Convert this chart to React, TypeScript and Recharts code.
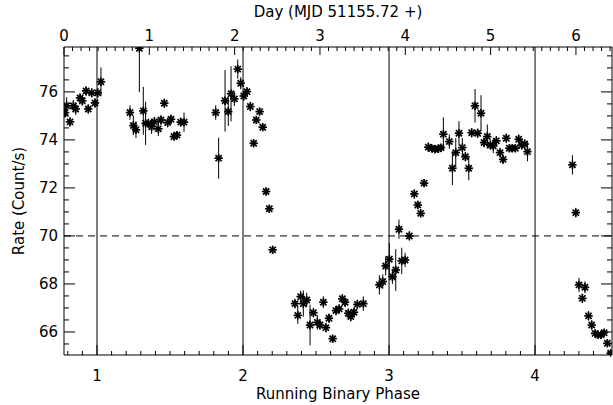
import React from 'react';
import { ScatterChart, Scatter, XAxis, YAxis, ErrorBar, ReferenceLine, Label } from 'recharts';

// Running binary phase of each measurement
const PHASE: number[] = [
  0.781, 0.792, 0.815, 0.838, 0.854, 0.884, 0.899, 0.925, 0.94, 0.964, 0.986, 1.005, 1.027,
  1.226, 1.249, 1.267, 1.29, 1.317, 1.333, 1.352, 1.374, 1.393, 1.42, 1.438, 1.461, 1.484, 1.507, 1.527, 1.548, 1.573, 1.596,
  1.813, 1.833, 1.877, 1.899, 1.918, 1.941, 1.964, 1.984, 2.005, 2.027, 2.05, 2.073, 2.091, 2.114, 2.135, 2.158, 2.18, 2.203,
  2.356, 2.375, 2.395, 2.413, 2.436, 2.459, 2.482, 2.509, 2.527, 2.55, 2.568, 2.589, 2.614, 2.637, 2.658, 2.68, 2.699, 2.721, 2.738, 2.76, 2.783, 2.824,
  2.934, 2.957, 2.977, 3.002, 3.023, 3.046, 3.068, 3.087, 3.11, 3.139, 3.173, 3.197, 3.217, 3.24,
  3.269, 3.292, 3.315, 3.338, 3.356, 3.372, 3.413, 3.434, 3.457, 3.479, 3.502, 3.523, 3.546, 3.566, 3.589, 3.607, 3.63, 3.651, 3.673, 3.694, 3.714, 3.735, 3.76, 3.781, 3.803, 3.824, 3.844, 3.865, 3.888, 3.909, 3.929, 3.948,
  4.256, 4.279, 4.301, 4.324, 4.342, 4.366, 4.388, 4.411, 4.432, 4.452, 4.473, 4.495, 4.518,
];

// Count rate (Count/s)
const RATE: number[] = [
  75.13, 75.42, 74.75, 75.42, 75.29, 75.75, 75.63, 76.04, 75.29, 75.96, 75.54, 75.96, 76.42,
  75.14, 74.6, 74.42, 77.82, 75.21, 74.69, 74.69, 74.55, 74.76, 74.46, 74.83, 75.53, 74.72, 74.86, 74.14, 74.2, 74.74, 74.74,
  75.14, 73.24, 75.63, 75.18, 75.92, 75.71, 76.95, 76.36, 75.83, 76.01, 75.39, 73.86, 74.83, 75.18, 74.53, 71.85, 71.13, 69.42,
  67.18, 66.69, 67.47, 67.18, 67.33, 66.29, 66.8, 66.4, 66.29, 67.24, 66.18, 66.57, 65.72, 66.89, 66.96, 67.38, 67.24, 66.78, 66.64, 66.82, 67.15, 67.18,
  67.96, 68.1, 68.75, 69.03, 68.3, 68.58, 70.28, 68.96, 69.0, 70.0, 71.75, 71.29, 70.94, 72.2,
  73.7, 73.65, 73.61, 73.63, 73.68, 74.24, 73.93, 72.82, 73.47, 74.28, 73.68, 73.3, 72.82, 74.3, 75.42, 74.28, 75.11, 73.89, 74.14, 73.79, 73.75, 73.96, 73.47, 73.19, 74.07, 73.65, 73.65, 73.65, 74.03, 73.79, 73.83, 73.51,
  72.96, 70.97, 67.96, 67.4, 67.86, 66.67, 66.29, 65.94, 65.88, 65.88, 65.97, 65.53, 65.11,
];

// 1-sigma error on the rate ([lower, upper] where the bar is cut by the plot frame)
const RATE_ERR: (number | number[])[] = [
  0.2, 0.36, 0.2, 0.25, 0.25, 0.2, 0.2, 0.2, 0.2, 0.2, 0.2, 0.2, 0.6,
  0.3, 0.4, 0.35, [1.83, 0.05], 1.0, 0.9, 0.2, 0.3, 0.2, 0.3, 0.2, 0.2, 0.2, 0.2, 0.15, 0.15, 0.2, 0.4,
  0.3, 0.85, 1.28, 0.6, 1.15, 0.3, 0.4, 0.25, 0.2, 0.2, 0.2, 0.15, 0.15, 0.15, 0.15, 0.15, 0.15, 0.15,
  0.2, 0.35, 0.25, 0.55, 0.3, 0.85, 0.2, 0.3, 0.2, 0.25, 0.2, 0.2, 0.15, 0.2, 0.2, 0.2, 0.2, 0.2, 0.2, 0.2, 0.2, 0.3,
  0.4, 0.3, 0.4, 0.67, 0.3, 0.87, 0.4, 0.55, 0.3, 0.2, 0.2, 0.15, 0.15, 0.15,
  0.2, 0.15, 0.15, 0.15, 0.15, 0.7, 0.3, 0.7, 0.6, 0.5, 0.4, 0.2, 0.5, 0.2, 0.7, 0.2, 0.75, 0.2, 0.5, 0.2, 0.3, 0.2, 0.2, 0.2, 0.2, 0.15, 0.15, 0.15, 0.2, 0.2, 0.2, 0.4,
  0.4, 0.2, 0.3, 0.2, 0.25, 0.2, 0.2, 0.15, 0.15, 0.15, 0.15, 0.15, 0.15,
];

const PHASE_LABELS = [1, 2, 3, 4];
const DAY_LABELS = [0, 1, 2, 3, 4, 5, 6];
const RATE_LABELS = [66, 68, 70, 72, 74, 76];
const ORBIT_BOUNDARIES = [1, 2, 3, 4];
const REF_RATE = 70;

const PHASE_MIN = 0.774;
const PHASE_MAX = 4.527;
const PERIOD_DAYS = 1.7113;
const DAY_MAX = (PHASE_MAX - PHASE_MIN) * PERIOD_DAYS;
const RATE_MIN = 65.04;
const RATE_MAX = 77.87;

const steps = (a: number, b: number, s: number) => {
  const out: number[] = [];
  for (let v = a; v <= b + 1e-9; v += s) out.push(Math.round(v * 100) / 100);
  return out;
};
const PHASE_TICKS = steps(0.8, 4.5, 0.1);
const DAY_TICKS = steps(0, 6.4, 0.1);
const RATE_TICKS = steps(65.5, 77.5, 0.5);

const data = PHASE.map((p, i) => ({ phase: p, rate: RATE[i], err: RATE_ERR[i] }));
// invisible helper so the secondary (top / right) axes get a scale
const axisHelper = [
  { day: 0, rate: RATE_MIN },
  { day: DAY_MAX, rate: RATE_MAX },
];

const FONT = 'DejaVu Sans, sans-serif';
const FS = 15;
const isIn = (v: number, arr: number[]) => arr.some((a) => Math.abs(a - v) < 1e-6);

const BottomTick = (props: any) => {
  const { x, y, payload } = props;
  const major = isIn(payload.value, PHASE_LABELS);
  return (
    <g>
      <line x1={x} x2={x} y1={y} y2={y - (major ? 10 : 4)} stroke="#000" strokeWidth={1} />
      {major && (
        <text x={x} y={y + 26} textAnchor="middle" fontFamily={FONT} fontSize={FS} fill="#000">
          {payload.value}
        </text>
      )}
    </g>
  );
};

const TopTick = (props: any) => {
  const { x, y, payload } = props;
  const major = isIn(payload.value, DAY_LABELS);
  return (
    <g>
      <line x1={x} x2={x} y1={y} y2={y + (major ? 8 : 4)} stroke="#000" strokeWidth={1} />
      {major && (
        <text x={x} y={y - 6} textAnchor="middle" fontFamily={FONT} fontSize={FS} fill="#000">
          {payload.value}
        </text>
      )}
    </g>
  );
};

const LeftTick = (props: any) => {
  const { x, y, payload } = props;
  const major = isIn(payload.value, RATE_LABELS);
  return (
    <g>
      <line x1={x} x2={x + (major ? 11 : 5)} y1={y} y2={y} stroke="#000" strokeWidth={1} />
      {major && (
        <text x={x - 6} y={y + 5.5} textAnchor="end" fontFamily={FONT} fontSize={FS} fill="#000">
          {payload.value}
        </text>
      )}
    </g>
  );
};

const RightTick = (props: any) => {
  const { x, y, payload } = props;
  const major = isIn(payload.value, RATE_LABELS);
  return <line x1={x} x2={x - (major ? 11 : 5)} y1={y} y2={y} stroke="#000" strokeWidth={1} />;
};

const Star = (props: any) => {
  const { cx, cy } = props;
  if (cx == null || cy == null) return null;
  const r = 4.2;
  const d = 3.1;
  return (
    <g stroke="#000" strokeWidth={1.7}>
      <line x1={cx - r} y1={cy} x2={cx + r} y2={cy} />
      <line x1={cx} y1={cy - r} x2={cx} y2={cy + r} />
      <line x1={cx - d} y1={cy - d} x2={cx + d} y2={cy + d} />
      <line x1={cx - d} y1={cy + d} x2={cx + d} y2={cy - d} />
    </g>
  );
};

const Nothing = () => <g />;

export default function App() {
  return (
    <div style={{ position: 'absolute', left: 0, top: 0, width: 613, height: 405, background: '#fff' }}>
      <ScatterChart width={613} height={405} margin={{ top: 46, right: 0, bottom: 49, left: 63 }}>
        <XAxis
          xAxisId={0}
          dataKey="phase"
          type="number"
          domain={[PHASE_MIN, PHASE_MAX]}
          allowDataOverflow
          ticks={PHASE_TICKS}
          interval={0}
          height={1}
          tickSize={0}
          tickMargin={0}
          tickLine={false}
          tick={<BottomTick />}
          axisLine={{ stroke: '#000' }}
        >
          <Label
            content={(p: any) => {
              const vb = p.viewBox || { x: 64, y: 355, width: 548 };
              return (
                <text x={vb.x + vb.width / 2} y={vb.y + 44} textAnchor="middle" fontFamily={FONT} fontSize={FS} fill="#000">
                  Running Binary Phase
                </text>
              );
            }}
          />
        </XAxis>
        <XAxis
          xAxisId="top"
          orientation="top"
          dataKey="day"
          type="number"
          domain={[0, DAY_MAX]}
          allowDataOverflow
          ticks={DAY_TICKS}
          interval={0}
          height={1}
          tickSize={0}
          tickMargin={0}
          tickLine={false}
          tick={<TopTick />}
          axisLine={{ stroke: '#000' }}
        >
          <Label
            content={(p: any) => {
              const vb = p.viewBox || { x: 64, y: 46, width: 548 };
              return (
                <text x={vb.x + vb.width / 2} y={vb.y - 29} textAnchor="middle" fontFamily={FONT} fontSize={FS} fill="#000">
                  Day (MJD 51155.72 +)
                </text>
              );
            }}
          />
        </XAxis>
        <YAxis
          yAxisId={0}
          dataKey="rate"
          type="number"
          domain={[RATE_MIN, RATE_MAX]}
          allowDataOverflow
          ticks={RATE_TICKS}
          interval={0}
          width={1}
          tickSize={0}
          tickMargin={0}
          tickLine={false}
          tick={<LeftTick />}
          axisLine={{ stroke: '#000' }}
        >
          <Label
            content={(p: any) => {
              const vb = p.viewBox || { x: 63, y: 47, height: 308 };
              const cx = vb.x - 39;
              const cy = vb.y + vb.height / 2;
              return (
                <text x={cx} y={cy} transform={`rotate(-90 ${cx} ${cy})`} textAnchor="middle" fontFamily={FONT} fontSize={FS} fill="#000">
                  Rate (Count/s)
                </text>
              );
            }}
          />
        </YAxis>
        <YAxis
          yAxisId="right"
          orientation="right"
          dataKey="rate"
          type="number"
          domain={[RATE_MIN, RATE_MAX]}
          allowDataOverflow
          ticks={RATE_TICKS}
          interval={0}
          width={1}
          tickSize={0}
          tickMargin={0}
          tickLine={false}
          tick={<RightTick />}
          axisLine={{ stroke: '#000' }}
        />
        {ORBIT_BOUNDARIES.map((b) => (
          <ReferenceLine key={b} x={b} xAxisId={0} yAxisId={0} stroke="#000" strokeWidth={1} />
        ))}
        <ReferenceLine y={REF_RATE} xAxisId={0} yAxisId={0} stroke="#000" strokeWidth={1} strokeDasharray="7 5" />
        <Scatter
          data={axisHelper}
          xAxisId="top"
          yAxisId="right"
          dataKey="rate"
          shape={<Nothing />}
          legendType="none"
          isAnimationActive={false}
        />
        <Scatter data={data} xAxisId={0} yAxisId={0} dataKey="rate" shape={<Star />} isAnimationActive={false}>
          <ErrorBar dataKey="err" direction="y" width={0} stroke="#000" strokeWidth={1} />
        </Scatter>
      </ScatterChart>
    </div>
  );
}
